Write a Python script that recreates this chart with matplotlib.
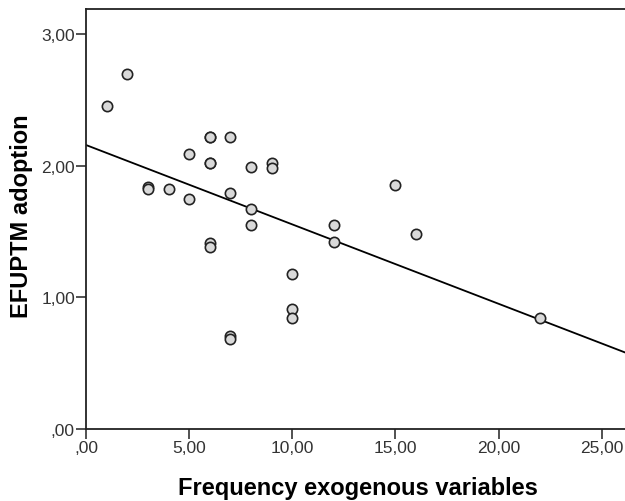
import matplotlib
matplotlib.use("Agg")
import matplotlib.pyplot as plt
import numpy as np

# scatter data
freq_exog = [1, 2, 6, 6, 7, 5, 6, 6, 8, 9, 9, 3, 3, 4, 5, 7, 8, 8, 12, 12,
             6, 6, 15, 16, 10, 10, 10, 7, 7, 22]
efuptm = [2.45, 2.70, 2.22, 2.22, 2.22, 2.09, 2.02, 2.02, 1.99, 2.02, 1.98,
          1.84, 1.82, 1.82, 1.75, 1.79, 1.67, 1.55, 1.55, 1.42,
          1.41, 1.38, 1.85, 1.48, 1.18, 0.91, 0.84, 0.71, 0.68, 0.84]

# fit line as shown on the chart
fit_intercept = 2.157
fit_slope = -0.0603

x_ticks = [0, 5, 10, 15, 20, 25]
y_ticks = [0, 1, 2, 3]


def spss_fmt(v, _=None):
    s = f"{v:.2f}".replace(".", ",")
    if s.startswith("0,"):
        s = s[1:]
    return s


plt.rcParams["font.family"] = ["Liberation Sans", "DejaVu Sans"]

fig = plt.figure(figsize=(6.25, 5.02), dpi=100)
ax = fig.add_axes([86 / 625, 72 / 502, 539 / 625, 420 / 502])

xmax = 539 / 20.63
ax.set_xlim(0, xmax)
ax.set_ylim(0, 3.19)

xs = np.array([0, xmax])
ax.plot(xs, fit_intercept + fit_slope * xs, color="black", lw=1.3, zorder=2)
ax.scatter(freq_exog, efuptm, s=55, facecolor="#d9d9d9", edgecolor="#222222",
           linewidth=1.2, zorder=3)

ax.set_xticks(x_ticks)
ax.set_yticks(y_ticks)
ax.xaxis.set_major_formatter(plt.FuncFormatter(spss_fmt))
ax.yaxis.set_major_formatter(plt.FuncFormatter(spss_fmt))
ax.tick_params(direction="out", length=7, width=1.1, labelsize=12.5,
               colors="#222222", labelcolor="#333333", pad=1)

for side in ("left", "bottom", "top"):
    ax.spines[side].set_linewidth(1.3)
    ax.spines[side].set_color("#222222")
ax.spines["right"].set_visible(False)

fig.text(358 / 625, 1 - 489 / 502, "Frequency exogenous variables",
         fontsize=17, fontweight="bold", ha="center", va="center")
fig.text(22 / 625, 1 - 216 / 502, "EFUPTM adoption", rotation=90,
         fontsize=17, fontweight="bold", ha="center", va="center")

fig.savefig("out.png", dpi=100)
